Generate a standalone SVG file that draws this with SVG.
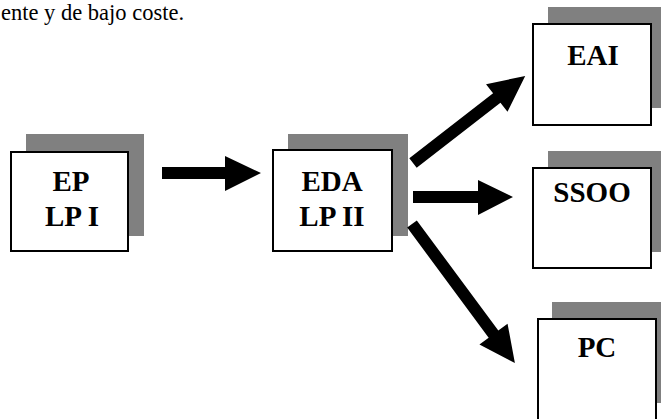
<svg xmlns="http://www.w3.org/2000/svg" width="661" height="419" viewBox="0 0 661 419">
  <style>
    .shadow { fill: #808080; }
    .box { fill: #ffffff; stroke: #000000; stroke-width: 2; }
    .lbl { font-family: "Liberation Serif", "Times New Roman", serif; font-weight: bold; font-size: 29px; fill: #000000; text-anchor: middle; }
    .body { font-family: "Liberation Serif", "Times New Roman", serif; font-size: 22.5px; fill: #000000; }
    .arrow { fill: #000000; }
  </style>
  <rect width="661" height="419" fill="#ffffff"/>
  <text class="body" x="1" y="20">ente y de bajo coste.</text>

  <g id="node-ep">
    <rect class="shadow" x="26" y="134" width="118" height="102"/>
    <rect class="box" x="11" y="152" width="117" height="99"/>
    <text class="lbl" x="71" y="191">EP</text>
    <text class="lbl" x="72" y="226">LP I</text>
  </g>
  <g id="node-eda">
    <rect class="shadow" x="288" y="134" width="120" height="102"/>
    <rect class="box" x="273" y="150" width="119" height="101"/>
    <text class="lbl" x="332" y="191">EDA</text>
    <text class="lbl" x="332" y="226">LP II</text>
  </g>
  <g id="node-eai">
    <rect class="shadow" x="548" y="7" width="120" height="101"/>
    <rect class="box" x="533" y="24" width="118" height="101"/>
    <text class="lbl" x="593" y="65">EAI</text>
  </g>
  <g id="node-ssoo">
    <rect class="shadow" x="548" y="151" width="120" height="101"/>
    <rect class="box" x="533" y="168" width="118" height="100"/>
    <text class="lbl" x="592" y="202">SSOO</text>
  </g>
  <g id="node-pc">
    <rect class="shadow" x="552" y="302" width="120" height="101"/>
    <rect class="box" x="538" y="319" width="118" height="110"/>
    <text class="lbl" x="597" y="357">PC</text>
  </g>

  <g id="connectors">
    <polygon class="arrow" points="162,167 225,167 225,156 261,173 225,191 225,179 162,179"/>
    <polygon class="arrow" points="413,191 478,191 478,180 513,197 478,215 478,203 413,203"/>
    <g transform="translate(413,163) rotate(-37.8)">
      <polygon class="arrow" points="0,-6 106,-6 106,-17.5 142,0 106,17.5 106,6 0,6"/>
    </g>
    <g transform="translate(412,224) rotate(53.5)">
      <polygon class="arrow" points="0,-6 137,-6 137,-17.5 173,0 137,17.5 137,6 0,6"/>
    </g>
  </g>
</svg>
